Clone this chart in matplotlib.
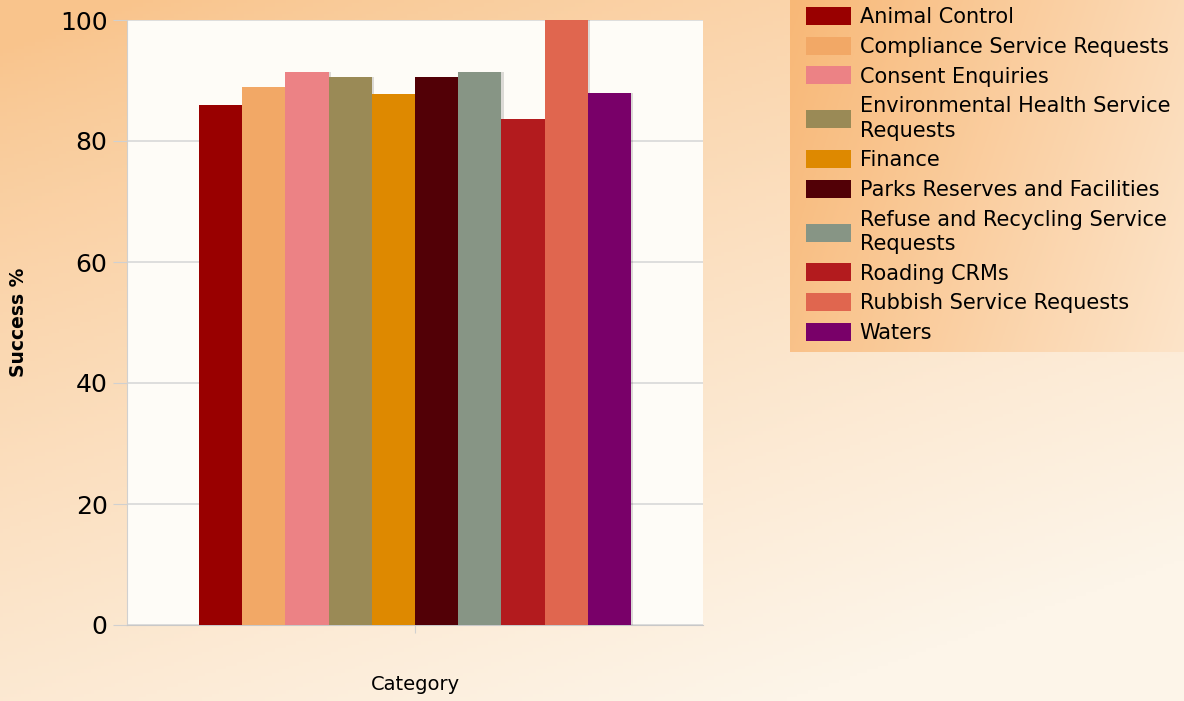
import numpy as np
import matplotlib.pyplot as plt
from matplotlib.patches import Patch
from matplotlib.colors import to_rgb

# data
categories = ['Animal Control', 'Compliance Service Requests', 'Consent Enquiries',
              'Environmental Health Service\nRequests', 'Finance',
              'Parks Reserves and Facilities', 'Refuse and Recycling Service\nRequests',
              'Roading CRMs', 'Rubbish Service Requests', 'Waters']
success = [86.0, 88.9, 91.4, 90.6, 87.8, 90.6, 91.4, 83.6, 100.0, 87.9]
colors = ['#990000', '#f2a866', '#ec8285', '#9a8a56', '#de8900',
          '#520006', '#879585', '#b31b1e', '#e0664f', '#790069']

fig = plt.figure(figsize=(11.84, 7.01), dpi=100)

# background gradient
bg = fig.add_axes([0, 0, 1, 1], zorder=-10)
yy, xx = np.mgrid[0:1:200j, 0:1:340j]
t = np.clip(0.75 * yy + 0.45 * xx - 0.05, 0, 1) ** 0.8
c0, c1 = np.array(to_rgb('#f9c48c')), np.array(to_rgb('#fdf5e9'))
img = c0[None, None, :] * (1 - t[..., None]) + c1[None, None, :] * t[..., None]
bg.imshow(img, aspect='auto', extent=[0, 1, 0, 1], origin='upper')
bg.axis('off')

# legend box gradient
lg = fig.add_axes([790 / 1184, 1 - 352 / 701, 394 / 1184, 352 / 701], zorder=-5)
lx = np.linspace(0, 1, 200)[None, :]
ly = np.linspace(0, 1, 100)[:, None]
tl = np.clip(0.7 * lx + 0.2 * ly, 0, 1)
l0, l1 = np.array(to_rgb('#f8b877')), np.array(to_rgb('#fde9d2'))
limg = l0[None, None, :] * (1 - tl[..., None]) + l1[None, None, :] * tl[..., None]
lg.imshow(limg, aspect='auto', extent=[0, 1, 0, 1], origin='upper')
lg.axis('off')

ax = fig.add_axes([127 / 1184, 1 - 625 / 701, 576 / 1184, 605 / 701])
ax.set_facecolor('#fefcf7')

n = len(categories)
width = 0.075
offsets = (np.arange(n) - (n - 1) / 2) * width
for off, val, col in zip(offsets, success, colors):
    ax.bar(off + 0.004, val, width, color='#00000022', zorder=2)
    ax.bar(off, val, width, color=col, zorder=3)

ax.set_xlim(-0.5, 0.5)
ax.set_ylim(0, 100)
ax.set_yticks([0, 20, 40, 60, 80, 100])
ax.set_xticks([0])
ax.set_xticklabels([''])
ax.grid(axis='y', color='#d8d8d8', linewidth=1.2, zorder=0)
ax.tick_params(axis='y', labelsize=18, length=10, color='#d0d0d0', pad=4)
ax.tick_params(axis='x', length=6, color='#d0d0d0')
for s in ['top', 'right']:
    ax.spines[s].set_visible(False)
ax.spines['left'].set_color('#d0d0d0')
ax.spines['bottom'].set_color('#c8c8c8')
ax.set_ylabel('Success %', fontsize=13.5, fontweight='bold')
ax.yaxis.set_label_coords(-0.172, 0.5)
ax.set_xlabel('Category', fontsize=14)
ax.xaxis.set_label_coords(0.5, -0.082)

handles = [Patch(facecolor=c) for c in colors]
leg = fig.legend(handles, categories, loc='upper left', bbox_to_anchor=(806 / 1184, 1 - 7 / 701),
                 frameon=False, fontsize=15, handlelength=2.15, handleheight=0.95,
                 handletextpad=0.42, labelspacing=0.46, borderaxespad=0, borderpad=0)
for txt in leg.get_texts():
    txt.set_linespacing(1.27)

plt.savefig('out.png', dpi=100)
